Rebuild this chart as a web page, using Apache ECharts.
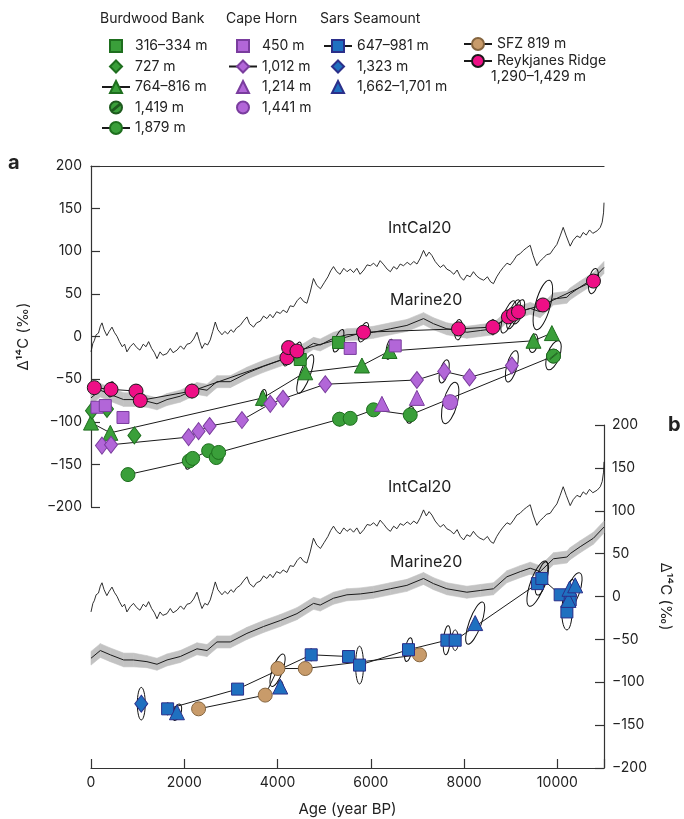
<!DOCTYPE html>
<html>
<head>
<meta charset="UTF-8">
<title>Delta14C records</title>
<script src="https://cdn.jsdelivr.net/npm/echarts@6/dist/echarts.min.js"></script>
<style>
html, body { margin: 0; padding: 0; background: #fff; }
#chart { width: 684px; height: 819px; }
</style>
</head>
<body>
<div id="chart"></div>
<script>
// IntCal20 atmospheric curve, [age (year BP), D14C (permil)]
var intcal = [[0,-18],[40,-8],[70,-5],[110,2],[160,4],[200,12],[236,16],[280,8],[340,1],[390,6],[450,11],[500,5],[560,0],[610,-6],[670,-12],[720,-9],[770,-18],[840,-12],[910,-8],[980,-13],[1050,-16],[1120,-9],[1180,-12],[1235,-6],[1300,-14],[1360,-19],[1415,-26],[1480,-18],[1540,-22],[1630,-20],[1700,-14],[1760,-19],[1845,-16],[1920,-11],[1990,-15],[2060,-9],[2128,-8],[2200,-3],[2272,5],[2330,-6],[2380,-14],[2440,-8],[2500,-10],[2557,-4],[2610,6],[2665,17],[2720,8],[2808,2],[2870,6],[2930,3],[3000,8],[3057,5],[3120,10],[3200,13],[3280,19],[3344,23],[3400,15],[3486,11],[3550,16],[3630,18],[3700,24],[3772,21],[3840,26],[3900,22],[3980,29],[4058,27],[4120,31],[4200,28],[4270,36],[4344,35],[4420,42],[4490,46],[4560,41],[4630,39],[4700,52],[4770,68],[4840,60],[4920,56],[5000,63],[5080,70],[5140,77],[5200,82],[5270,76],[5340,73],[5420,80],[5490,76],[5560,79],[5630,75],[5700,80],[5770,73],[5850,78],[5920,84],[5990,83],[6060,86],[6130,82],[6200,89],[6280,84],[6350,79],[6420,76],[6490,82],[6560,79],[6630,85],[6700,83],[6780,87],[6850,84],[6920,88],[6990,85],[7060,92],[7130,101],[7190,94],[7250,99],[7310,95],[7380,88],[7440,84],[7490,81],[7560,84],[7630,79],[7700,77],[7780,73],[7850,78],[7920,70],[7990,66],[8060,72],[8130,70],[8200,76],[8270,71],[8340,68],[8420,66],[8500,70],[8570,64],[8630,62],[8700,70],[8770,76],[8840,81],[8920,86],[8990,84],[9060,89],[9130,95],[9200,97],[9270,101],[9340,104],[9417,107],[9480,95],[9560,83],[9620,88],[9700,92],[9770,96],[9846,97],[9920,103],[9990,108],[10060,118],[10125,128],[10190,118],[10275,106],[10340,113],[10420,118],[10490,116],[10553,122],[10620,119],[10690,125],[10760,121],[10854,124],[10920,128],[10961,134],[10990,145],[11000,157]];
// Marine20 curve and its half-width
var marineAge = [0,200,414,700,907,1200,1415,1630,1914,2272,2487,2701,2986,3344,3700,4058,4416,4772,4915,5200,5488,5773,6058,6416,6774,7130,7344,7631,8060,8345,8630,8918,9203,9417,9631,9916,10204,10274,10489,10774,11000];
var marineD14C = [-72,-63,-68,-74,-74,-76,-79,-74,-70,-61,-63,-53,-53,-43,-35,-28,-20,-8,-10,-2,2,3,5,9,13,21,15,9,5,7,9,23,29,33,29,44,46,50,58,68,81];
var marineSigma = [8,8,8,8,8,7,7,7,7,7,7,7,7,7,7,7,7,7,7,7,7,7,7,7,7,7,7,7,7,7,7,7,7,7,7,7,7,7,7,7,7];

// panel a: Burdwood Bank
var bb316 = [[4487,-27],[5308,-7]];
var bb727 = [[21,-87],[343,-85],[930,-116]];
var bb764 = [[0,-101],[414,-113],[3687,-72],[4594,-42],[5809,-34],[6401,-17],[9488,-5],[9882,4]];
var bb1419 = [[9917,-23]];
var bb1879 = [[793,-162],[2107,-146],[2180,-143],[2522,-134],[2686,-142],[2737,-136],[5330,-97],[5558,-96],[6058,-86],[6845,-92],[9917,-23]];
// panel a: Cape Horn
var ch450 = [[128,-83],[306,-81],[686,-95],[5558,-14],[6523,-11]];
var ch1012 = [[235,-128],[429,-127],[2093,-118],[2307,-111],[2543,-105],[3237,-98],[3844,-79],[4116,-73],[5023,-56],[6988,-51],[7573,-41],[8116,-48],[9024,-34]];
var ch1214 = [[6238,-79],[6988,-72]];
var ch1441 = [[7702,-77]];
// panel a: Reykjanes Ridge
var rr = [[71,-60],[429,-62],[965,-64],[1057,-75],[2165,-64],[4201,-25],[4236,-13],[4416,-17],[5844,5],[7880,9],[8617,11],[8950,23],[9060,26],[9166,29],[9689,37],[10774,65]];
// panel b: Sars Seamount and SFZ
var ss647 = [[1643,-131],[3143,-108],[4722,-68],[5522,-70],[5758,-80],[6808,-62],[7631,-51],[7809,-51],[9573,15],[9667,21],[10060,2],[10204,-18]];
var ss647extra = [[10275,-4]];
var ss1323 = [[1078,-125]];
var ss1662 = [[1843,-135],[4058,-105],[8238,-31],[10238,-4],[10260,9],[10382,13]];
var sfz = [[2307,-131],[3736,-115],[4008,-84],[4594,-84],[7044,-68]];

// error ellipses: age, value, half width (yr), half height (permil), tilt (deg)
var ellipsesA = [[9689,37,160,30,15],[10774,65,100,15,10],[8950,23,110,20,20],[9060,26,100,18,20],[9166,29,100,15,20],[7880,8,85,12,5],[5844,5,85,12,20],[8617,11,75,9,0],[4201,-25,70,10,15],[4416,-17,70,11,20],[2165,-64,60,8,0],[965,-64,60,8,15],[429,-62,60,9,10],[9488,-8,90,11,10],[9917,-22,130,18,20],[7702,-78,150,25,15],[9024,-35,110,19,15],[7573,-41,90,14,15],[6845,-92,85,10,10],[4594,-44,110,24,20],[2107,-146,75,10,15],[5330,-97,70,8,0],[3687,-72,70,10,10],[5308,-5,80,14,20],[6401,-15,70,12,10]];
var ellipsesB = [[1078,-125,85,19,0],[1843,-135,85,10,20],[1643,-131,60,7,0],[4000,-86,110,20,20],[4058,-105,60,7,0],[5758,-80,85,22,0],[5522,-70,60,6,0],[6808,-62,75,14,10],[7631,-51,75,17,5],[7809,-51,70,12,0],[8238,-31,130,26,20],[9573,15,150,28,20],[9667,21,110,20,15],[10204,-18,110,21,0],[10330,5,140,24,20],[10260,0,90,20,10],[7044,-68,60,6,0],[4722,-68,60,7,0]];

var xTicks = [0,2000,4000,6000,8000,10000];
var yTicks = [-200,-150,-100,-50,0,50,100,150,200];

var FONT = 'Inter, "Noto Sans", sans-serif';
var GREEN = {color:'#3a9f3a', borderColor:'#1e6e1e', borderWidth:1};
var PURPLE = {color:'#b266d8', borderColor:'#7a3d9e', borderWidth:1};
var BLUE = {color:'#1f70c0', borderColor:'#2b2f8a', borderWidth:1};
var TAN = {color:'#c89b6a', borderColor:'#85653f', borderWidth:1};
var PINK = {color:'#ee0f86', borderColor:'#1a1a1a', borderWidth:1};

function minus(v) { return v < 0 ? '\u2212' + Math.abs(v) : String(v); }

function pairs(ages, vals) { return ages.map(function(a, i) { return [a, vals[i]]; }); }

function curves(g) {
  // grey uncertainty band of Marine20, one quad per segment
  var segs = [];
  for (var i = 0; i < marineAge.length - 1; i++) {
    segs.push([marineAge[i], marineD14C[i] - marineSigma[i], marineD14C[i] + marineSigma[i],
               marineAge[i + 1], marineD14C[i + 1] - marineSigma[i + 1], marineD14C[i + 1] + marineSigma[i + 1]]);
  }
  return [
    {type:'custom', xAxisIndex:g, yAxisIndex:g, data:segs, silent:true, z:1,
     renderItem:function(params, api) {
       var p1 = api.coord([api.value(0), api.value(1)]);
       var p2 = api.coord([api.value(3), api.value(4)]);
       var p3 = api.coord([api.value(3), api.value(5)]);
       var p4 = api.coord([api.value(0), api.value(2)]);
       return {type:'polygon', shape:{points:[p1, p2, p3, p4]},
               style:{fill:'#c2c2c2', stroke:'#c2c2c2', lineWidth:0.6}};
     }},
    {type:'line', xAxisIndex:g, yAxisIndex:g, data:pairs(marineAge, marineD14C), symbol:'none', lineStyle:{color:'#1a1a1a', width:1}, silent:true, z:2},
    {type:'line', xAxisIndex:g, yAxisIndex:g, data:intcal, symbol:'none', lineStyle:{color:'#1a1a1a', width:0.9}, silent:true, z:2}
  ];
}

function ellipses(g, list) {
  return {
    type:'custom', xAxisIndex:g, yAxisIndex:g, data:list, silent:true, z:3,
    renderItem: function(params, api) {
      var c = api.coord([api.value(0), api.value(1)]);
      var rx = api.size([api.value(2), 0])[0];
      var ry = api.size([0, api.value(3)])[1];
      return {
        type:'ellipse', x:c[0], y:c[1], rotation:-api.value(4) * Math.PI / 180,
        shape:{cx:0, cy:0, rx:rx, ry:ry},
        style:{fill:'none', stroke:'#111', lineWidth:1}
      };
    }
  };
}

function marks(name, data, g, symbol, size, style, joined) {
  return {
    name:name, type:'line', xAxisIndex:g, yAxisIndex:g, data:data,
    symbol:symbol, symbolSize:size, showSymbol:true, showAllSymbol:true, itemStyle:style,
    lineStyle:{color:'#1a1a1a', width:1, opacity: joined ? 1 : 0}, z:5
  };
}

var slashCircle = 'path://M0,10A10,10,0,1,1,20,10A10,10,0,1,1,0,10ZM4.5,13.8L15,5.2L15.6,6.2L5.1,14.8Z';

var series = [].concat(
  curves(0), curves(1),
  [ellipses(0, ellipsesA), ellipses(1, ellipsesB)],
  [
    marks('1,879 m', bb1879, 0, 'circle', 14, GREEN, true),
    marks('764–816 m', bb764, 0, 'triangle', 15, GREEN, true),
    marks('1,012 m', ch1012, 0, 'diamond', [13,17], PURPLE, true),
    marks('316–334 m', bb316, 0, 'rect', 12, GREEN, false),
    marks('727 m', bb727, 0, 'diamond', [13,17], GREEN, false),
    marks('1,419 m', bb1419, 0, slashCircle, 14, {color:'#3a9f3a', borderColor:'#1e5a1e', borderWidth:0.8}, false),
    marks('450 m', ch450, 0, 'rect', 12, PURPLE, false),
    marks('1,214 m', ch1214, 0, 'triangle', 15, PURPLE, false),
    marks('1,441 m', ch1441, 0, 'circle', 15, PURPLE, false),
    marks('Reykjanes Ridge', rr, 0, 'circle', 14, PINK, true),
    marks('SFZ 819 m', sfz, 1, 'circle', 14, TAN, true),
    marks('647–981 m', ss647, 1, 'rect', 12, BLUE, true),
    marks('647–981 m', ss647extra, 1, 'rect', 12, BLUE, false),
    marks('1,323 m', ss1323, 1, 'diamond', [13,17], BLUE, false),
    marks('1,662–1,701 m', ss1662, 1, 'triangle', 15, BLUE, false)
  ]
);

var axisLine = {show:true, onZero:false, lineStyle:{color:'#333', width:1.2}};
var axisTick = {show:true, inside:true, length:9, lineStyle:{color:'#333', width:1.2}};
var label = {fontSize:14, color:'#222', fontFamily:FONT};

function legendCol(names, left, top, gap) {
  return {
    data:names, left:left, top:top, orient:'vertical', itemGap:gap, itemWidth:28, itemHeight:15,
    selectedMode:false, textStyle:{fontSize:14, color:'#222', fontFamily:FONT}
  };
}

function txt(s, x, y, size, weight) {
  return {type:'text', x:x, y:y, silent:true,
    style:{text:s, fill:'#222', font:(weight || 'normal') + ' ' + size + 'px ' + FONT, verticalAlign:'middle', align:'left'}};
}

var option = {
  animation:false,
  backgroundColor:'#fff',
  grid:[
    {left:91, top:166, width:513, height:341, containLabel:false},
    {left:91, top:425, width:513, height:343, containLabel:false}
  ],
  xAxis:[
    {gridIndex:0, type:'value', min:0, max:11000, position:'top', axisLine:axisLine,
     axisTick:{show:false}, axisLabel:{show:false}, splitLine:{show:false}},
    {gridIndex:1, type:'value', min:0, max:11000, interval:2000, position:'bottom', axisLine:axisLine,
     axisTick:axisTick, splitLine:{show:false},
     axisLabel:Object.assign({margin:8, formatter:function(v) { return xTicks.indexOf(v) >= 0 ? String(v) : ''; }}, label),
     name:'Age (year BP)', nameLocation:'middle', nameGap:34, nameTextStyle:{fontSize:15, color:'#222', fontFamily:FONT}}
  ],
  yAxis:[
    {gridIndex:0, type:'value', min:-200, max:200, interval:50, position:'left', axisLine:axisLine,
     axisTick:axisTick, splitLine:{show:false},
     axisLabel:Object.assign({margin:9, formatter:function(v) { return yTicks.indexOf(v) >= 0 ? minus(v) : ''; }}, label),
     name:'\u0394\u00b9\u2074C (\u2030)', nameLocation:'middle', nameRotate:90, nameGap:60,
     nameTextStyle:{fontSize:15, color:'#222', fontFamily:FONT}},
    {gridIndex:1, type:'value', min:-200, max:200, interval:50, position:'right', axisLine:axisLine,
     axisTick:axisTick, splitLine:{show:false},
     axisLabel:Object.assign({margin:8, formatter:function(v) { return yTicks.indexOf(v) >= 0 ? minus(v) : ''; }}, label),
     name:'\u0394\u00b9\u2074C (\u2030)', nameLocation:'middle', nameRotate:-90, nameGap:46,
     nameTextStyle:{fontSize:15, color:'#222', fontFamily:FONT}}
  ],
  legend:[
    legendCol(['316–334 m','727 m','764–816 m','1,419 m','1,879 m'], 96, 34, 6.5),
    legendCol(['450 m','1,012 m','1,214 m','1,441 m'], 223, 34, 6.5),
    legendCol(['647–981 m','1,323 m','1,662–1,701 m'], 318, 34, 6.5),
    legendCol(['SFZ 819 m','Reykjanes Ridge'], 458, 32, 3)
  ],
  graphic:[
    txt('Burdwood Bank', 100, 19, 14),
    txt('Cape Horn', 226, 19, 14),
    txt('Sars Seamount', 320, 19, 14),
    txt('1,290–1,429 m', 491, 77, 14),
    txt('a', 8, 163, 20, 'bold'),
    txt('b', 668, 425, 20, 'bold'),
    txt('IntCal20', 388, 228, 16),
    txt('Marine20', 390, 300, 16),
    txt('IntCal20', 388, 487, 16),
    txt('Marine20', 390, 562, 16)
  ],
  series:series
};

var chart = echarts.init(document.getElementById('chart'), null, {renderer:'canvas'});
chart.setOption(option);
</script>
</body>
</html>
